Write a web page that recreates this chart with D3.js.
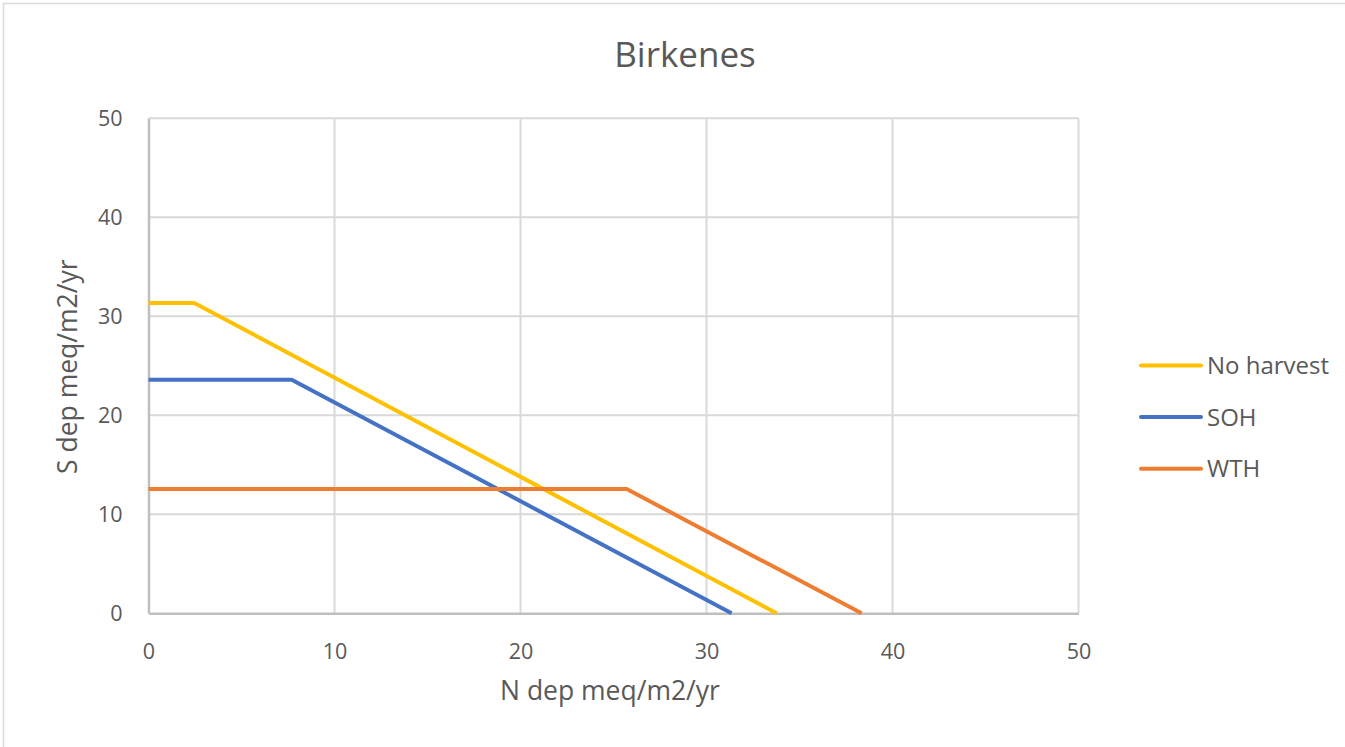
<!DOCTYPE html>
<html>
<head>
<meta charset="utf-8">
<script src="https://cdn.jsdelivr.net/npm/d3@7"></script>
<style>
  html, body { margin: 0; padding: 0; background: #fff; }
  svg { display: block; }
  text { font-family: "Open Sans", "Liberation Sans", sans-serif; fill: #595959; }
</style>
</head>
<body>
<svg id="chart" width="1345" height="747"></svg>
<script>
// Critical load function lines: N deposition (x) vs S deposition (y), meq/m2/yr
const seriesNames = ["No harvest", "SOH", "WTH"];
const seriesColors = ["#FFC000", "#4472C4", "#ED7D31"];
const noHarvestX = [0, 2.46, 33.77];
const noHarvestY = [31.35, 31.35, 0];
const sohX = [0, 7.70, 31.35];
const sohY = [23.6, 23.6, 0];
const wthX = [0, 25.71, 38.34];
const wthY = [12.55, 12.55, 0];
const xTicks = [0, 10, 20, 30, 40, 50];
const yTicks = [0, 10, 20, 30, 40, 50];

const seriesX = [noHarvestX, sohX, wthX];
const seriesY = [noHarvestY, sohY, wthY];

const svg = d3.select("#chart");

// chart frame
svg.append("rect")
  .attr("x", 3.5).attr("y", 3.5)
  .attr("width", 1400).attr("height", 800)
  .attr("fill", "#fff").attr("stroke", "#d9d9d9").attr("stroke-width", 1.5);

const plot = { left: 148.5, right: 1078.5, top: 118.3, bottom: 613.3 };

const x = d3.scaleLinear().domain([0, 50]).range([plot.left, plot.right]);
const y = d3.scaleLinear().domain([0, 50]).range([plot.bottom, plot.top]);

// gridlines
const grid = svg.append("g");
grid.selectAll("line.v").data(xTicks.filter(d => d > 0)).join("line")
  .attr("x1", d => x(d)).attr("x2", d => x(d))
  .attr("y1", plot.top).attr("y2", plot.bottom)
  .attr("stroke", "#d9d9d9").attr("stroke-width", 2);
grid.selectAll("line.h").data(yTicks.filter(d => d > 0)).join("line")
  .attr("x1", plot.left).attr("x2", plot.right)
  .attr("y1", d => y(d)).attr("y2", d => y(d))
  .attr("stroke", "#d9d9d9").attr("stroke-width", 2);

// axes
const xAxis = svg.append("g")
  .attr("transform", `translate(0,${plot.bottom})`)
  .call(d3.axisBottom(x).tickValues(xTicks).tickSize(0).tickPadding(30));
xAxis.select(".domain").attr("stroke", "#bfbfbf").attr("stroke-width", 2.5);
xAxis.selectAll("text").attr("font-size", 21.5).style("fill", "#595959");

const yAxis = svg.append("g")
  .attr("transform", `translate(${plot.left},0)`)
  .call(d3.axisLeft(y).tickValues(yTicks).tickSize(0).tickPadding(26));
yAxis.select(".domain").attr("stroke", "#bfbfbf").attr("stroke-width", 2.5);
yAxis.selectAll("text").attr("font-size", 21.5).style("fill", "#595959");

// series lines
const line = d3.line().x(d => x(d[0])).y(d => y(d[1]));
seriesNames.forEach((name, i) => {
  const pts = seriesX[i].map((v, j) => [v, seriesY[i][j]]);
  svg.append("path")
    .datum(pts)
    .attr("d", line)
    .attr("fill", "none")
    .attr("stroke", seriesColors[i])
    .attr("stroke-width", 4)
    .attr("stroke-linejoin", "round");
});

// title
svg.append("text")
  .attr("x", 685).attr("y", 67)
  .attr("text-anchor", "middle")
  .attr("font-size", 35)
  .text("Birkenes");

// axis titles
svg.append("text")
  .attr("x", 610).attr("y", 700)
  .attr("text-anchor", "middle")
  .attr("font-size", 26.5)
  .text("N dep meq/m2/yr");

svg.append("text")
  .attr("transform", `translate(77,366.7) rotate(-90)`)
  .attr("text-anchor", "middle")
  .attr("font-size", 26.5)
  .text("S dep meq/m2/yr");

// legend
const legend = svg.append("g");
seriesNames.forEach((name, i) => {
  const ly = 365.5 + i * 51.6;
  legend.append("line")
    .attr("x1", 1141).attr("x2", 1201)
    .attr("y1", ly).attr("y2", ly)
    .attr("stroke", seriesColors[i]).attr("stroke-width", 4)
    .attr("stroke-linecap", "round");
  legend.append("text")
    .attr("x", 1207).attr("y", ly + 8.7)
    .attr("font-size", 24)
    .text(name);
});
</script>
</body>
</html>
